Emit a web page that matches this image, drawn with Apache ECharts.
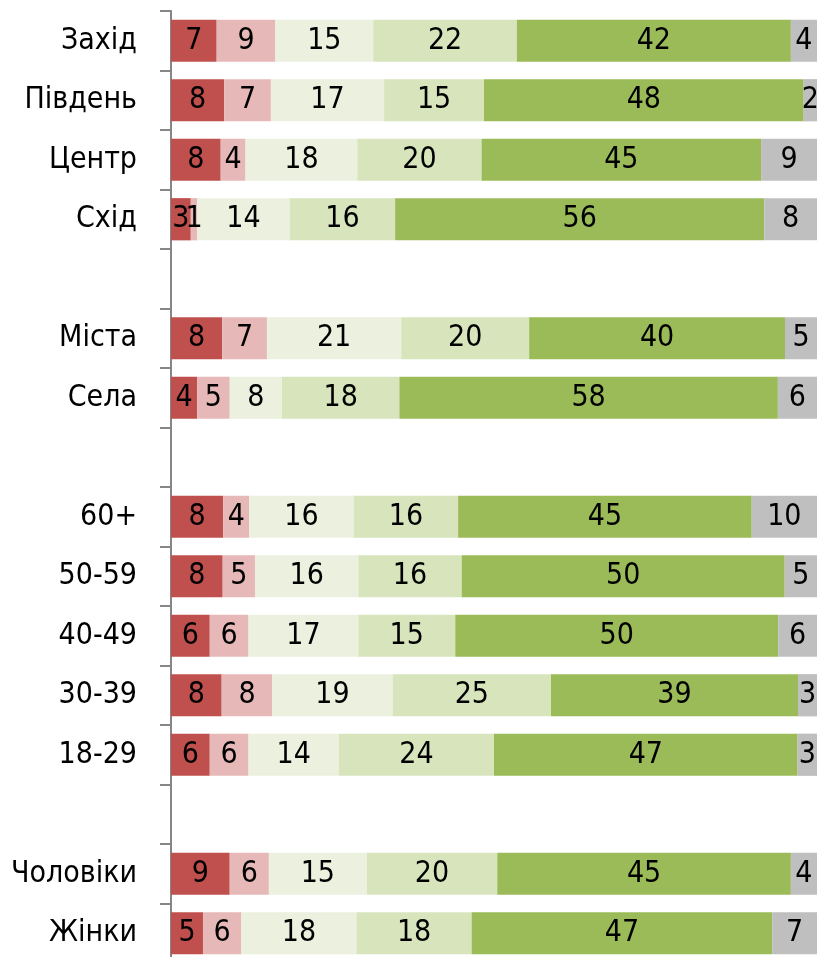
<!DOCTYPE html>
<html>
<head>
<meta charset="utf-8">
<script src="https://cdn.jsdelivr.net/npm/echarts@6/dist/echarts.min.js"></script>
<style>
  html, body { margin: 0; padding: 0; background: #fff; }
  #chart { width: 817px; height: 957px; }
</style>
</head>
<body>
<div id="chart"></div>
<script>
const categories = ['Захід', 'Південь', 'Центр', 'Схід', ' ', 'Міста', 'Села', '  ', '60+', '50-59', '40-49', '30-39', '18-29', '   ', 'Чоловіки', 'Жінки']

// null = empty spacer row
const red = [7, 8, 8, 3, null, 8, 4, null, 8, 8, 6, 8, 6, null, 9, 5]
const pink = [9, 7, 4, 1, null, 7, 5, null, 4, 5, 6, 8, 6, null, 6, 6]
const pale = [15, 17, 18, 14, null, 21, 8, null, 16, 16, 17, 19, 14, null, 15, 18]
const lightGreen = [22, 15, 20, 16, null, 20, 18, null, 16, 16, 15, 25, 24, null, 20, 18]
const green = [42, 48, 45, 56, null, 40, 58, null, 45, 50, 50, 39, 47, null, 45, 47]
const grey = [4, 2, 9, 8, null, 5, 6, null, 10, 5, 6, 3, 3, null, 4, 7]

const seriesData = [red, pink, pale, lightGreen, green, grey]
const colors = ['#C0504D', '#E6B9B8', '#EBF1DE', '#D7E4BC', '#9BBB59', '#BFBFBF']

const fontFamily = "'Liberation Sans Narrow', 'Arial Narrow', 'DejaVu Sans Condensed', sans-serif"

// 100% stacked: each row is scaled to its own total
const totals = categories.map((c, i) => seriesData.reduce((s, arr) => s + (arr[i] || 0), 0))

const chart = echarts.init(document.getElementById('chart'))
chart.setOption({
  animation: false,
  grid: {
    top: 11,
    left: 171,
    width: 646,
    height: 952,
    outerBoundsMode: 'none'
  },
  xAxis: {
    type: 'value',
    min: 0,
    max: 100,
    show: false
  },
  yAxis: {
    type: 'category',
    inverse: true,
    data: categories,
    axisLine: {
      show: true,
      lineStyle: { color: '#868686', width: 2 }
    },
    axisTick: {
      show: true,
      length: 11,
      lineStyle: { color: '#868686', width: 2 }
    },
    axisLabel: {
      color: '#000',
      fontSize: 30,
      fontFamily: fontFamily,
      margin: 34
    },
    splitLine: { show: false }
  },
  series: seriesData.map((arr, k) => ({
    type: 'bar',
    stack: 'total',
    barWidth: '71%',
    itemStyle: { color: colors[k] },
    label: {
      show: true,
      position: 'inside',
      color: '#000',
      fontSize: 30,
      fontFamily: fontFamily,
      formatter: p => arr[p.dataIndex]
    },
    data: arr.map((v, i) => v === null ? null : v / totals[i] * 100)
  }))
})
</script>
</body>
</html>
